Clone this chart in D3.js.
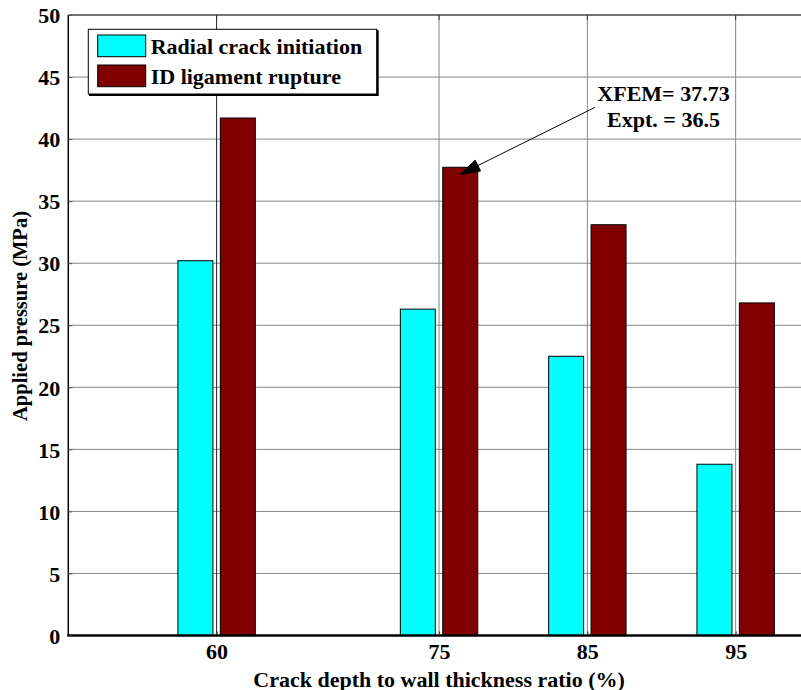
<!DOCTYPE html>
<html>
<head>
<meta charset="utf-8">
<script src="https://cdn.jsdelivr.net/npm/d3@7"></script>
<style>
  html, body { margin: 0; padding: 0; background: #fff; }
  svg text { font-family: "Liberation Serif", "Times New Roman", serif; font-weight: bold; fill: #000; }
</style>
</head>
<body>
<svg id="chart" width="801" height="690"></svg>
<script>
// Crack depth ratios (%) on the x axis
const ratios = [60, 75, 85, 95];
// Applied pressure (MPa) for each series
const radialInit = [30.2, 26.3, 22.5, 13.8];
const idRupture = [41.7, 37.73, 33.1, 26.8];
const seriesNames = ["Radial crack initiation", "ID ligament rupture"];
const seriesColors = ["#00ffff", "#800000"];
const yTicks = [0, 5, 10, 15, 20, 25, 30, 35, 40, 45, 50];
// Callout pointing to the 75% rupture bar: tail and tip in data units
const calloutLines = ["XFEM= 37.73", "Expt. = 36.5"];
const calloutTail = [85.52, 42.56];
const calloutTip = [76.41, 37.15];

const svg = d3.select("#chart");
const plotL = 68.3, plotR = 809.8, plotT = 15, plotB = 635.5;

const x = d3.scaleLinear().domain([50, 100]).range([plotL, plotR]);
const y = d3.scaleLinear().domain([0, 50]).range([plotB, plotT]);

const barW = 2.36;   // bar width in x units
const off = 1.43;    // bar centre offset from the group position

// grid
const grid = svg.append("g");
grid.selectAll("line.h").data(yTicks.filter(v => v > 0 && v < 50)).join("line")
  .attr("x1", plotL).attr("x2", plotR)
  .attr("y1", d => y(d)).attr("y2", d => y(d))
  .attr("stroke", "#858585").attr("stroke-width", 1);
grid.selectAll("line.v").data(ratios).join("line")
  .attr("x1", d => x(d)).attr("x2", d => x(d))
  .attr("y1", plotT).attr("y2", plotB)
  .attr("stroke", (d, i) => i === 0 ? "#222" : "#858585").attr("stroke-width", 1);

// bars
const series = [radialInit, idRupture];
series.forEach((vals, s) => {
  const dx = s === 0 ? -off : off;
  svg.append("g").selectAll("rect").data(ratios.map((r, i) => ({ r, v: vals[i] }))).join("rect")
    .attr("x", d => x(d.r + dx - barW / 2))
    .attr("width", d => x(d.r + dx + barW / 2) - x(d.r + dx - barW / 2))
    .attr("y", d => y(d.v))
    .attr("height", d => y(0) - y(d.v))
    .attr("fill", seriesColors[s])
    .attr("stroke", "#000").attr("stroke-width", 1);
});

// axes frame
svg.append("line").attr("x1", plotL).attr("x2", plotR).attr("y1", plotT).attr("y2", plotT)
  .attr("stroke", "#444").attr("stroke-width", 1.5);
svg.append("line").attr("x1", plotL).attr("x2", plotL).attr("y1", plotT).attr("y2", plotB)
  .attr("stroke", "#000").attr("stroke-width", 1.5);
svg.append("line").attr("x1", plotL - 1).attr("x2", plotR).attr("y1", plotB).attr("y2", plotB)
  .attr("stroke", "#000").attr("stroke-width", 2.5);

// y axis ticks and labels
const yAxis = d3.axisLeft(y).tickValues(yTicks).tickSize(-4).tickPadding(8).tickFormat(d3.format("d"));
const gy = svg.append("g").attr("transform", `translate(${plotL},0)`).call(yAxis);
gy.select(".domain").remove();
gy.selectAll(".tick line").attr("stroke", "#555");
gy.selectAll(".tick text").style("font-size", "22px").attr("dy", "0.35em");

// x axis ticks and labels
const xAxis = d3.axisBottom(x).tickValues(ratios).tickSize(-4).tickPadding(8).tickFormat(d3.format("d"));
const gx = svg.append("g").attr("transform", `translate(0,${plotB})`).call(xAxis);
gx.select(".domain").remove();
gx.selectAll(".tick line").attr("stroke", "#333");
gx.selectAll(".tick text").style("font-size", "22px").attr("dy", "0.71em");

// top ticks
svg.append("g").selectAll("line").data(ratios).join("line")
  .attr("x1", d => x(d)).attr("x2", d => x(d))
  .attr("y1", plotT).attr("y2", plotT + 5)
  .attr("stroke", "#333").attr("stroke-width", 1);

// axis titles
svg.append("text").attr("x", (plotL + plotR) / 2).attr("y", 686.5)
  .attr("text-anchor", "middle").style("font-size", "22px")
  .text("Crack depth to wall thickness ratio (%)");
svg.append("text").attr("transform", "translate(27,316) rotate(-90)")
  .attr("text-anchor", "middle").style("font-size", "20.5px")
  .text("Applied pressure (MPa)");

// legend
const lg = svg.append("g");
lg.append("rect").attr("x", 88.3).attr("y", 29.3).attr("width", 288.4).attr("height", 64.7)
  .attr("fill", "#fff").attr("stroke", "#000").attr("stroke-width", 1);
lg.append("path").attr("d", "M377.7,30 L377.7,95 L89,95").attr("fill", "none")
  .attr("stroke", "#000").attr("stroke-width", 2);
seriesNames.forEach((name, i) => {
  lg.append("rect").attr("x", 97.7).attr("y", 35 + i * 30).attr("width", 48).attr("height", 21.7)
    .attr("fill", seriesColors[i]).attr("stroke", "#000").attr("stroke-width", 1);
  lg.append("text").attr("x", 150.7).attr("y", 54.3 + i * 29.3).style("font-size", "22px").text(name);
});

// callout
const ann = svg.append("g");
calloutLines.forEach((t, i) => {
  ann.append("text").attr("x", 663.5).attr("y", 100.7 + i * 26).attr("text-anchor", "middle")
    .style("font-size", "22px").text(t);
});
const tx = x(calloutTail[0]), ty = y(calloutTail[1]);
const px = x(calloutTip[0]), py = y(calloutTip[1]);
const len = Math.hypot(tx - px, ty - py);
const ux = (tx - px) / len, uy = (ty - py) / len;
const hl = 20, hw = 6;
const bx = px + ux * hl, by = py + uy * hl;
ann.append("line").attr("x1", tx).attr("y1", ty).attr("x2", bx).attr("y2", by)
  .attr("stroke", "#000").attr("stroke-width", 1);
ann.append("path")
  .attr("d", `M${px},${py} L${bx - uy * hw},${by + ux * hw} L${bx},${by} L${bx + uy * hw},${by - ux * hw} Z`)
  .attr("fill", "#000").attr("stroke", "#000").attr("stroke-width", 1);
</script>
</body>
</html>
